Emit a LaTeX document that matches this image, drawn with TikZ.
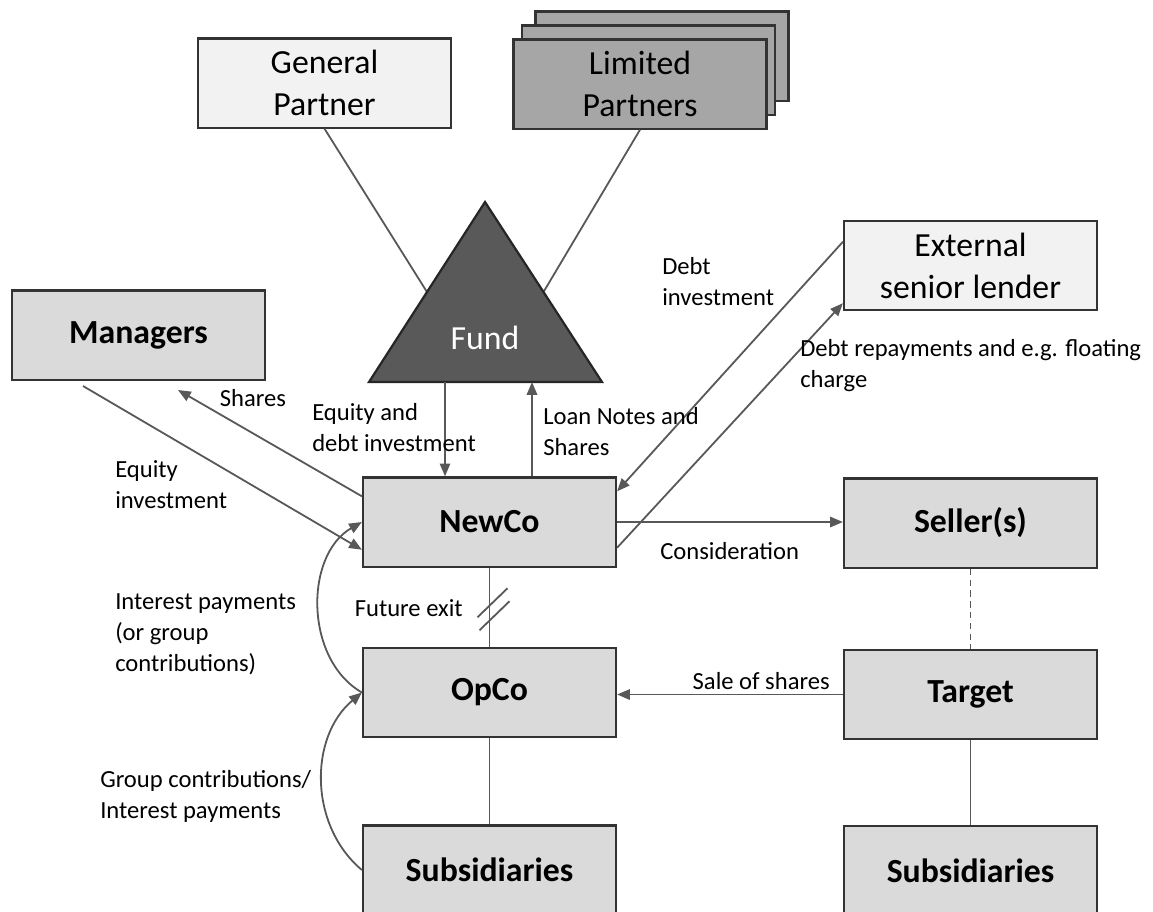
\documentclass[tikz,border=0pt]{standalone}
\usepackage{fontspec}
\setmainfont{Carlito}
\usepackage{tikz}
\usetikzlibrary{arrows.meta, positioning, calc}
\definecolor{boxgray}{HTML}{DADADA}
\definecolor{palegray}{HTML}{F2F2F2}
\definecolor{lpgray}{HTML}{A6A6A6}
\definecolor{fundgray}{HTML}{595959}
\definecolor{linegray}{HTML}{585858}
\definecolor{edgegray}{HTML}{333333}
\tikzset{
    box/.style={
        rectangle, draw=edgegray, line width=0.55mm, fill=boxgray,
        minimum width=63.25mm, minimum height=22.3mm,
        align=center, font=\fontsize{24}{30}\selectfont\bfseries
    },
    palebox/.style={box, fill=palegray, font=\fontsize{24}{30}\selectfont},
    lpbox/.style={box, fill=lpgray, font=\fontsize{24}{30}\selectfont},
    % Label and connector styles
    lbl/.style={inner sep=0pt, align=left, font=\fontsize{17.5}{22}\selectfont},
    link/.style={draw=linegray, line width=0.45mm},
    arrow/.style={link, -{Triangle[length=3.2mm, width=2.6mm]}}
}
\begin{document}
\begin{tikzpicture}[x=0.25mm, y=-0.25mm]
    \useasboundingbox (0,0) rectangle (1153,911);
    \clip (0,0) rectangle (1153,911);

    \node[palebox] (GP) at (324.5,83) {General\\Partner};
    \node[lpbox] (LP3) at (662,56) {};
    \node[lpbox] (LP2) at (648.5,70) {};
    \node[lpbox] (LP) at (640,84) {Limited\\Partners};
    \node[palebox] (Lender) at (970.5,265.5) {External\\senior lender};
    \node[box] (Managers) at (138.5,335) {Managers};
    \node[box] (NewCo) at (489.5,522) {NewCo};
    \node[box] (Sellers) at (970.5,523) {Seller(s)};
    \node[box] (OpCo) at (489.5,692.5) {OpCo};
    \node[box] (Target) at (970.5,694.5) {Target};
    \node[box] (SubsL) at (489.5,870) {Subsidiaries};
    \node[box] (SubsR) at (970.5,870.5) {Subsidiaries};

    \coordinate (FundTop) at (485,202);
    \coordinate (FundLeft) at (369,382);
    \coordinate (FundRight) at (602,382);
    \coordinate (FundLS) at ($(FundTop)!0.5!(FundLeft)$);
    \coordinate (FundRS) at ($(FundTop)!0.5!(FundRight)$);
    \draw[link] (GP.south) -- (FundLS);
    \draw[link] (LP.south) -- (FundRS);
    \filldraw[fill=fundgray, draw=black!85, line width=0.55mm] (FundTop) -- (FundRight) -- (FundLeft) -- cycle;
    \node[text=white, font=\fontsize{24}{30}\selectfont] (Fund) at (485,338) {Fund};

    \coordinate (FundIn) at (445,382);
    \coordinate (FundOut) at (532,382);
    \draw[arrow] (FundIn) -- (FundIn |- NewCo.north);
    \draw[arrow] (FundOut |- NewCo.north) -- (FundOut);

    \coordinate (SharesTip) at (178,390);
    \coordinate (EquityStart) at (83,386);
    \draw[arrow] ($(NewCo.north west)+(0,20)$) -- (SharesTip);
    \draw[arrow] (EquityStart) -- ($(NewCo.south west)+(0,-18)$);

    \draw[arrow] ($(Lender.north west)+(0,22)$) -- ($(NewCo.north east)+(0,15)$);
    \draw[arrow] ($(NewCo.south east)+(0,-20)$) -- ($(Lender.south west)+(0,-8)$);

    \draw[arrow] (NewCo.east) -- (NewCo.east -| Sellers.west);
    \draw[link, dash pattern=on 1.6mm off 1.1mm] (Sellers) -- (Target);
    \draw[arrow] (Target.west) -- (Target.west -| OpCo.east);
    \draw[link] (Target) -- (SubsR);

    \draw[link] (NewCo) -- (OpCo);
    \coordinate (Exit) at ($(NewCo.south)!0.5!(OpCo.north)$);
    \draw[link] ($(Exit)+(-12,10)$) -- ++(30,-29);
    \draw[link] ($(Exit)+(-10,23)$) -- ++(30,-29);
    \draw[link] (OpCo) -- (SubsL);

    \draw[arrow] (OpCo.west) to[bend left=60] (NewCo.west);
    \draw[arrow] (SubsL.west) to[bend left=50] (OpCo.west);

    \node[lbl] (SharesLbl) at (253,398) {Shares};
    \node[lbl, anchor=west] (EquityLbl) at (115,485) {Equity\\investment};
    \node[lbl, anchor=west] (FundInLbl) at (312,428) {Equity and\\debt investment};
    \node[lbl, anchor=west] (FundOutLbl) at (543,432) {Loan Notes and\\Shares};
    \node[lbl, anchor=west] (DebtInLbl) at (662,282) {Debt\\investment};
    \node[lbl, anchor=west] (DebtOutLbl) at (800,366) {Debt repayments and e.g. floating\\charge};
    \node[lbl, anchor=west] (ConsLbl) at (660,551) {Consideration};
    \node[lbl, anchor=east] (SaleLbl) at (830,681) {Sale of shares};
    \node[lbl, anchor=east] (ExitLbl) at (463,608) {Future exit};
    \node[lbl, anchor=west] (IntLbl) at (115,634) {Interest payments\\(or group\\contributions)};
    \node[lbl, anchor=west] (GroupLbl) at (100,796) {Group contributions/\\Interest payments};
\end{tikzpicture}
\end{document}
